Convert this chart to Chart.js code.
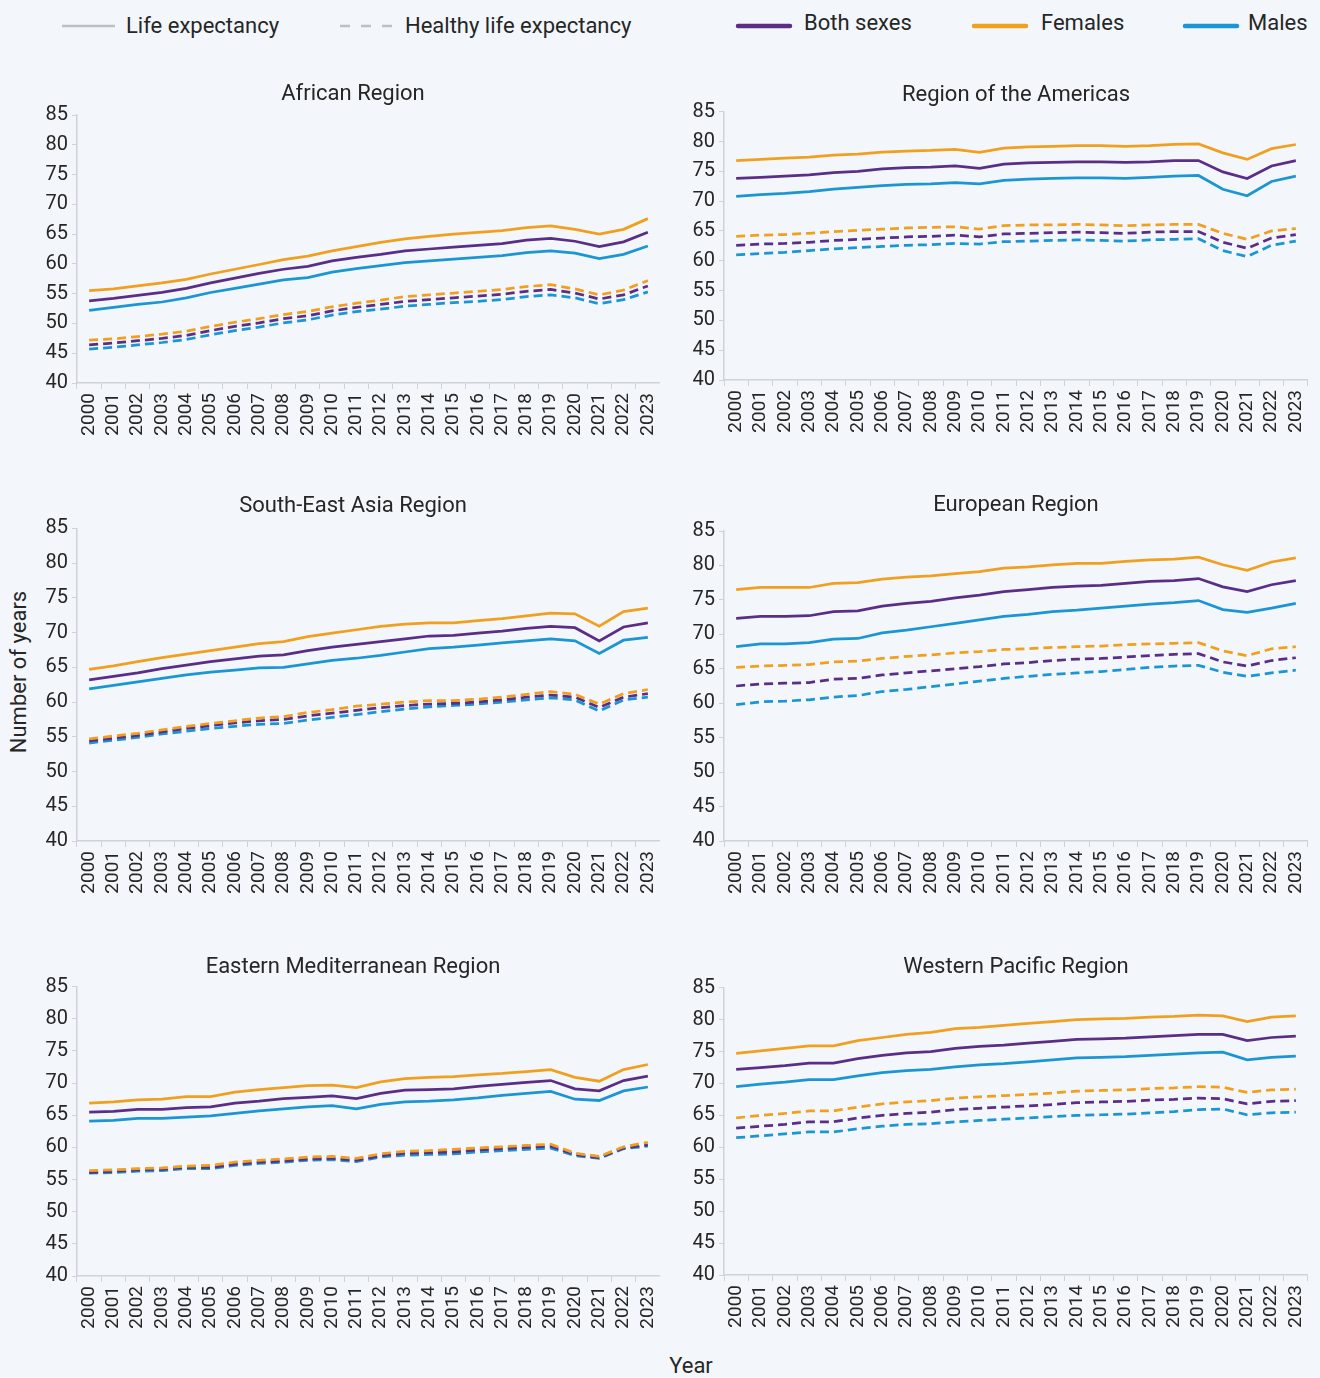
<!DOCTYPE html>
<html lang="en">
<head>
<meta charset="utf-8">
<title>Life expectancy and healthy life expectancy by WHO region</title>
<script src="https://cdn.jsdelivr.net/npm/chart.js@4.4.1/dist/chart.umd.min.js"></script>
<style>
    html, body {
        margin: 0;
        padding: 0;
        background: #f3f7fb;
    }
    body {
        position: relative;
        width: 1320px;
        height: 1378px;
        overflow: hidden;
        font-family: Roboto, "Noto Sans", sans-serif;
        color: #262626;
    }
    .panel {
        position: absolute;
    }
    .legend-item {
        position: absolute;
        font-size: 22px;
        line-height: 30px;
        white-space: nowrap;
    }
    .legend-line {
        position: absolute;
    }
    .axis-title {
        position: absolute;
        font-size: 22px;
        line-height: 26px;
        white-space: nowrap;
    }
</style>
</head>
<body>

<!-- 凡例 -->
<svg class="legend-line" style="left:60px;top:20px" width="60" height="12">
    <line x1="2" y1="6" x2="55" y2="6" stroke="#bcc0c5" stroke-width="2.5"/>
</svg>
<div class="legend-item" style="left:126px;top:11px">Life expectancy</div>
<svg class="legend-line" style="left:338px;top:20px" width="62" height="12">
    <line x1="2" y1="6" x2="58" y2="6" stroke="#bcc0c5" stroke-width="2.5" stroke-dasharray="10 11"/>
</svg>
<div class="legend-item" style="left:405px;top:11px">Healthy life expectancy</div>

<svg class="legend-line" style="left:732px;top:20px" width="64" height="12">
    <line x1="6" y1="6" x2="58" y2="6" stroke="#5a2d87" stroke-width="4.5" stroke-linecap="round"/>
</svg>
<div class="legend-item" style="left:804px;top:8px">Both sexes</div>
<svg class="legend-line" style="left:968px;top:20px" width="64" height="12">
    <line x1="6" y1="6" x2="58" y2="6" stroke="#f0a01e" stroke-width="4.5" stroke-linecap="round"/>
</svg>
<div class="legend-item" style="left:1041px;top:8px">Females</div>
<svg class="legend-line" style="left:1179px;top:20px" width="64" height="12">
    <line x1="6" y1="6" x2="58" y2="6" stroke="#1b95d4" stroke-width="4.5" stroke-linecap="round"/>
</svg>
<div class="legend-item" style="left:1248px;top:8px">Males</div>

<!-- 軸タイトル -->
<div class="axis-title" style="left:19px;top:672px;transform:translate(-50%,-50%) rotate(-90deg)">Number of years</div>
<div class="axis-title" style="left:691px;top:1366px;transform:translate(-50%,-50%)">Year</div>

<div id="charts"></div>

<script>
// 年（横軸のカテゴリ）
const years = ['2000', '2001', '2002', '2003', '2004', '2005', '2006', '2007', '2008', '2009', '2010', '2011',
    '2012', '2013', '2014', '2015', '2016', '2017', '2018', '2019', '2020', '2021', '2022', '2023'];

// 縦軸の目盛り
const yTicks = [40, 45, 50, 55, 60, 65, 70, 75, 80, 85];

// 地域名
const regionNames = ['African Region', 'Region of the Americas', 'South-East Asia Region',
    'European Region', 'Eastern Mediterranean Region', 'Western Pacific Region'];

// 凡例のラベル
const sexLabels = ['Both sexes', 'Females', 'Males'];
const measureLabels = ['Life expectancy', 'Healthy life expectancy'];

// アフリカ地域
const afrBothLE = [53.8, 54.2, 54.7, 55.2, 55.9, 56.8, 57.6, 58.4, 59.1, 59.6, 60.5, 61.1, 61.6, 62.2, 62.5, 62.8, 63.1, 63.4, 64.0, 64.3, 63.8, 62.9, 63.7, 65.3];
const afrFemLE = [55.5, 55.8, 56.3, 56.8, 57.4, 58.3, 59.1, 59.9, 60.7, 61.3, 62.2, 62.9, 63.6, 64.2, 64.6, 65.0, 65.3, 65.6, 66.1, 66.4, 65.8, 65.0, 65.8, 67.6];
const afrMaleLE = [52.2, 52.7, 53.2, 53.6, 54.3, 55.2, 55.9, 56.6, 57.3, 57.7, 58.6, 59.2, 59.7, 60.2, 60.5, 60.8, 61.1, 61.4, 61.9, 62.2, 61.8, 60.9, 61.6, 63.0];
const afrBothHALE = [46.4, 46.7, 47.1, 47.5, 48.0, 48.8, 49.5, 50.1, 50.8, 51.3, 52.1, 52.7, 53.2, 53.7, 54.0, 54.3, 54.6, 54.9, 55.4, 55.7, 55.1, 54.1, 54.8, 56.3];
const afrFemHALE = [47.2, 47.4, 47.8, 48.2, 48.7, 49.5, 50.2, 50.8, 51.5, 52.0, 52.8, 53.4, 53.9, 54.5, 54.8, 55.1, 55.4, 55.7, 56.2, 56.5, 55.8, 54.8, 55.6, 57.2];
const afrMaleHALE = [45.7, 46.0, 46.4, 46.8, 47.3, 48.1, 48.8, 49.4, 50.1, 50.6, 51.4, 52.0, 52.4, 52.9, 53.2, 53.5, 53.7, 54.0, 54.5, 54.8, 54.3, 53.3, 54.0, 55.3];

// アメリカ地域
const amrBothLE = [73.8, 74.0, 74.2, 74.4, 74.8, 75.0, 75.4, 75.6, 75.7, 75.9, 75.5, 76.2, 76.4, 76.5, 76.6, 76.6, 76.5, 76.6, 76.8, 76.8, 74.9, 73.8, 75.9, 76.8];
const amrFemLE = [76.8, 77.0, 77.2, 77.4, 77.7, 77.9, 78.2, 78.4, 78.5, 78.7, 78.2, 78.9, 79.1, 79.2, 79.3, 79.3, 79.2, 79.3, 79.5, 79.6, 78.1, 77.0, 78.8, 79.5];
const amrMaleLE = [70.8, 71.1, 71.3, 71.6, 72.0, 72.3, 72.6, 72.8, 72.9, 73.1, 72.9, 73.5, 73.7, 73.8, 73.9, 73.9, 73.8, 74.0, 74.2, 74.3, 72.0, 70.9, 73.3, 74.2];
const amrBothHALE = [62.6, 62.8, 62.9, 63.1, 63.4, 63.6, 63.8, 64.0, 64.1, 64.3, 64.0, 64.5, 64.6, 64.7, 64.8, 64.7, 64.6, 64.8, 64.9, 64.9, 63.1, 62.1, 63.8, 64.4];
const amrFemHALE = [64.1, 64.3, 64.4, 64.6, 64.9, 65.1, 65.3, 65.5, 65.6, 65.7, 65.3, 65.9, 66.0, 66.0, 66.1, 66.0, 65.9, 66.0, 66.1, 66.1, 64.6, 63.6, 65.0, 65.4];
const amrMaleHALE = [61.0, 61.2, 61.4, 61.7, 62.0, 62.2, 62.4, 62.6, 62.7, 62.9, 62.8, 63.2, 63.3, 63.4, 63.5, 63.4, 63.3, 63.5, 63.6, 63.7, 61.7, 60.7, 62.6, 63.3];

// 東南アジア地域
const searBothLE = [63.2, 63.7, 64.2, 64.8, 65.3, 65.8, 66.2, 66.6, 66.8, 67.4, 67.9, 68.3, 68.7, 69.1, 69.5, 69.6, 69.9, 70.2, 70.6, 70.9, 70.7, 68.8, 70.8, 71.4];
const searFemLE = [64.7, 65.2, 65.8, 66.4, 66.9, 67.4, 67.9, 68.4, 68.7, 69.4, 69.9, 70.4, 70.9, 71.2, 71.4, 71.4, 71.7, 72.0, 72.4, 72.8, 72.7, 70.9, 73.0, 73.5];
const searMaleLE = [61.9, 62.4, 62.9, 63.4, 63.9, 64.3, 64.6, 64.9, 65.0, 65.5, 66.0, 66.3, 66.7, 67.2, 67.7, 67.9, 68.2, 68.5, 68.8, 69.1, 68.8, 67.0, 68.9, 69.3];
const searBothHALE = [54.4, 54.8, 55.2, 55.7, 56.2, 56.6, 57.0, 57.3, 57.5, 58.0, 58.4, 58.8, 59.2, 59.5, 59.7, 59.8, 60.0, 60.3, 60.7, 61.0, 60.7, 59.2, 60.7, 61.2];
const searFemHALE = [54.7, 55.1, 55.5, 56.0, 56.5, 56.9, 57.3, 57.7, 57.9, 58.5, 58.9, 59.4, 59.7, 60.0, 60.2, 60.2, 60.4, 60.7, 61.1, 61.5, 61.1, 59.7, 61.2, 61.8];
const searMaleHALE = [54.1, 54.5, 54.9, 55.4, 55.8, 56.2, 56.5, 56.8, 56.9, 57.4, 57.8, 58.2, 58.6, 59.0, 59.3, 59.5, 59.7, 60.0, 60.3, 60.6, 60.3, 58.7, 60.3, 60.7];

// ヨーロッパ地域
const eurBothLE = [72.3, 72.6, 72.6, 72.7, 73.3, 73.4, 74.1, 74.5, 74.8, 75.3, 75.7, 76.2, 76.5, 76.8, 77.0, 77.1, 77.4, 77.7, 77.8, 78.1, 76.9, 76.2, 77.2, 77.8];
const eurFemLE = [76.5, 76.8, 76.8, 76.8, 77.4, 77.5, 78.0, 78.3, 78.5, 78.8, 79.1, 79.6, 79.8, 80.1, 80.3, 80.3, 80.6, 80.8, 80.9, 81.2, 80.1, 79.3, 80.5, 81.1];
const eurMaleLE = [68.2, 68.6, 68.6, 68.8, 69.3, 69.4, 70.2, 70.6, 71.1, 71.6, 72.1, 72.6, 72.9, 73.3, 73.5, 73.8, 74.1, 74.4, 74.6, 74.9, 73.6, 73.2, 73.8, 74.5];
const eurBothHALE = [62.5, 62.8, 62.9, 63.0, 63.5, 63.6, 64.1, 64.4, 64.7, 65.0, 65.3, 65.7, 65.9, 66.2, 66.4, 66.5, 66.7, 66.9, 67.1, 67.2, 66.0, 65.4, 66.2, 66.6];
const eurFemHALE = [65.2, 65.4, 65.5, 65.6, 66.0, 66.1, 66.5, 66.8, 67.0, 67.3, 67.5, 67.8, 67.9, 68.1, 68.2, 68.3, 68.5, 68.6, 68.7, 68.8, 67.6, 66.9, 67.9, 68.2];
const eurMaleHALE = [59.8, 60.2, 60.3, 60.5, 60.9, 61.1, 61.7, 62.0, 62.4, 62.8, 63.2, 63.6, 63.9, 64.2, 64.4, 64.6, 64.9, 65.2, 65.4, 65.5, 64.5, 63.9, 64.4, 64.8];

// 東地中海地域
const emrBothLE = [65.5, 65.6, 65.9, 65.9, 66.2, 66.3, 66.9, 67.2, 67.6, 67.8, 68.0, 67.6, 68.4, 68.9, 69.0, 69.1, 69.5, 69.8, 70.1, 70.4, 69.1, 68.8, 70.4, 71.1];
const emrFemLE = [66.9, 67.1, 67.4, 67.5, 67.9, 67.9, 68.6, 69.0, 69.3, 69.6, 69.7, 69.3, 70.2, 70.7, 70.9, 71.0, 71.3, 71.5, 71.8, 72.1, 70.9, 70.3, 72.1, 72.9];
const emrMaleLE = [64.1, 64.2, 64.5, 64.5, 64.7, 64.9, 65.3, 65.7, 66.0, 66.3, 66.5, 66.0, 66.7, 67.1, 67.2, 67.4, 67.7, 68.1, 68.4, 68.7, 67.5, 67.3, 68.8, 69.4];
const emrBothHALE = [56.1, 56.3, 56.5, 56.6, 56.9, 56.9, 57.4, 57.7, 57.9, 58.2, 58.3, 58.0, 58.7, 59.1, 59.2, 59.3, 59.6, 59.8, 60.0, 60.2, 58.9, 58.4, 59.9, 60.4];
const emrFemHALE = [56.4, 56.5, 56.7, 56.8, 57.1, 57.2, 57.7, 58.0, 58.2, 58.5, 58.6, 58.3, 59.0, 59.4, 59.5, 59.7, 59.9, 60.1, 60.3, 60.5, 59.1, 58.6, 60.1, 60.8];
const emrMaleHALE = [56.0, 56.1, 56.3, 56.4, 56.7, 56.7, 57.2, 57.5, 57.7, 58.0, 58.1, 57.8, 58.5, 58.8, 58.9, 59.0, 59.3, 59.5, 59.7, 59.9, 58.7, 58.3, 59.8, 60.2];

// 西太平洋地域
const wprBothLE = [72.2, 72.5, 72.8, 73.2, 73.2, 73.9, 74.4, 74.8, 75.0, 75.5, 75.8, 76.0, 76.3, 76.6, 76.9, 77.0, 77.1, 77.3, 77.5, 77.7, 77.7, 76.7, 77.2, 77.4];
const wprFemLE = [74.7, 75.1, 75.5, 75.9, 75.9, 76.7, 77.2, 77.7, 78.0, 78.6, 78.8, 79.1, 79.4, 79.7, 80.0, 80.1, 80.2, 80.4, 80.5, 80.7, 80.6, 79.7, 80.4, 80.6];
const wprMaleLE = [69.5, 69.9, 70.2, 70.6, 70.6, 71.2, 71.7, 72.0, 72.2, 72.6, 72.9, 73.1, 73.4, 73.7, 74.0, 74.1, 74.2, 74.4, 74.6, 74.8, 74.9, 73.7, 74.1, 74.3];
const wprBothHALE = [63.0, 63.3, 63.6, 64.0, 64.0, 64.6, 65.0, 65.3, 65.5, 65.9, 66.1, 66.3, 66.5, 66.7, 67.0, 67.1, 67.2, 67.4, 67.5, 67.7, 67.6, 66.8, 67.2, 67.3];
const wprFemHALE = [64.6, 65.0, 65.3, 65.7, 65.7, 66.3, 66.8, 67.1, 67.3, 67.7, 67.9, 68.1, 68.3, 68.5, 68.8, 68.9, 69.0, 69.2, 69.3, 69.5, 69.4, 68.6, 69.0, 69.1];
const wprMaleHALE = [61.5, 61.8, 62.1, 62.4, 62.4, 62.9, 63.3, 63.6, 63.7, 64.0, 64.2, 64.4, 64.6, 64.8, 65.0, 65.1, 65.2, 65.4, 65.6, 65.9, 66.0, 65.1, 65.4, 65.5];

// 地域ごとの系列 [両性, 女性, 男性]
const regionLE = [
    [afrBothLE, afrFemLE, afrMaleLE],
    [amrBothLE, amrFemLE, amrMaleLE],
    [searBothLE, searFemLE, searMaleLE],
    [eurBothLE, eurFemLE, eurMaleLE],
    [emrBothLE, emrFemLE, emrMaleLE],
    [wprBothLE, wprFemLE, wprMaleLE]
];
const regionHALE = [
    [afrBothHALE, afrFemHALE, afrMaleHALE],
    [amrBothHALE, amrFemHALE, amrMaleHALE],
    [searBothHALE, searFemHALE, searMaleHALE],
    [eurBothHALE, eurFemHALE, eurMaleHALE],
    [emrBothHALE, emrFemHALE, emrMaleHALE],
    [wprBothHALE, wprFemHALE, wprMaleHALE]
];

// 色と書式
const sexColors = ['#5a2d87', '#f0a01e', '#1b95d4'];
const axisColor = '#cfd3d8';
const textColor = '#262626';
const fontFamily = 'Roboto, "Noto Sans", sans-serif';

// パネルの配置（タイトル中心, プロット上端, プロット下端）
const panelLayout = [
    { left: true,  titleMid: 94,    plotTop: 115,   plotBottom: 383.3 },
    { left: false, titleMid: 95,    plotTop: 111.7, plotBottom: 380 },
    { left: true,  titleMid: 506,   plotTop: 528.3, plotBottom: 841 },
    { left: false, titleMid: 505.6, plotTop: 531,   plotBottom: 841 },
    { left: true,  titleMid: 967,   plotTop: 986.7, plotBottom: 1275.7 },
    { left: false, titleMid: 967.3, plotTop: 987.7, plotBottom: 1275 }
];
const yAxisWidth = 31;
const xAxisHeight = 62;
const sidePad = 6;
const titleSize = 22;
const titleLine = titleSize * 1.2;

document.addEventListener('DOMContentLoaded', function() {
    regionNames.forEach((name, i) => createPanel(i));
});

// データセットを作成
function buildDatasets(index) {
    const sets = [];
    // 健康寿命（破線）を先に描き、平均寿命（実線）を上に重ねる
    [1, 0, 2].forEach(s => {
        sets.push({
            label: sexLabels[s] + ' - ' + measureLabels[1],
            data: regionHALE[index][s],
            borderColor: sexColors[s],
            borderDash: [9, 5],
            borderWidth: 2.75,
            pointRadius: 0,
            fill: false
        });
    });
    [1, 0, 2].forEach(s => {
        sets.push({
            label: sexLabels[s] + ' - ' + measureLabels[0],
            data: regionLE[index][s],
            borderColor: sexColors[s],
            borderWidth: 2.75,
            pointRadius: 0,
            fill: false
        });
    });
    return sets;
}

// 1 地域分のグラフを作成
function createPanel(index) {
    const lay = panelLayout[index];
    const plotLeft = lay.left ? 77 : 724;
    const plotRight = lay.left ? 660 : 1308;
    const canvasLeft = plotLeft - yAxisWidth - sidePad;
    const canvasTop = Math.round(lay.titleMid - titleLine / 2);
    const width = plotRight - canvasLeft;
    const height = Math.round(lay.plotBottom + xAxisHeight - canvasTop);
    const titlePadBottom = lay.plotTop - canvasTop - titleLine;

    const wrap = document.createElement('div');
    wrap.className = 'panel';
    wrap.style.left = canvasLeft + 'px';
    wrap.style.top = canvasTop + 'px';
    const canvas = document.createElement('canvas');
    canvas.width = width;
    canvas.height = height;
    wrap.appendChild(canvas);
    document.getElementById('charts').appendChild(wrap);

    new Chart(canvas, {
        type: 'line',
        data: {
            labels: years,
            datasets: buildDatasets(index)
        },
        options: {
            responsive: false,
            animation: false,
            layout: { padding: { left: sidePad, right: 0, top: 0, bottom: 0 } },
            elements: { line: { tension: 0 } },
            plugins: {
                legend: { display: false },
                tooltip: { enabled: false },
                title: {
                    display: true,
                    text: regionNames[index],
                    fullSize: lay.left,
                    color: textColor,
                    font: { family: fontFamily, size: titleSize, weight: 'normal' },
                    padding: { top: 0, bottom: titlePadBottom }
                }
            },
            scales: {
                x: {
                    offset: true,
                    grid: {
                        offset: true,
                        drawOnChartArea: false,
                        tickLength: 6,
                        color: axisColor
                    },
                    border: { color: axisColor, width: 1.5 },
                    ticks: {
                        autoSkip: false,
                        maxRotation: 90,
                        minRotation: 90,
                        padding: 4,
                        color: textColor,
                        font: { family: fontFamily, size: 19 }
                    },
                    // 回転ラベル用の左右余白を詰める
                    afterFit: axis => {
                        axis.height = xAxisHeight;
                        axis.paddingLeft = 0;
                        axis.paddingRight = 0;
                    }
                },
                y: {
                    min: yTicks[0],
                    max: yTicks[yTicks.length - 1],
                    grid: {
                        drawOnChartArea: false,
                        tickLength: 5,
                        color: axisColor
                    },
                    border: { color: axisColor, width: 1.5 },
                    ticks: {
                        padding: 4,
                        color: textColor,
                        font: { family: fontFamily, size: 20 }
                    },
                    afterBuildTicks: axis => { axis.ticks = yTicks.map(v => ({ value: v })); },
                    afterFit: axis => { axis.width = yAxisWidth; }
                }
            }
        }
    });
}
</script>
</body>
</html>
